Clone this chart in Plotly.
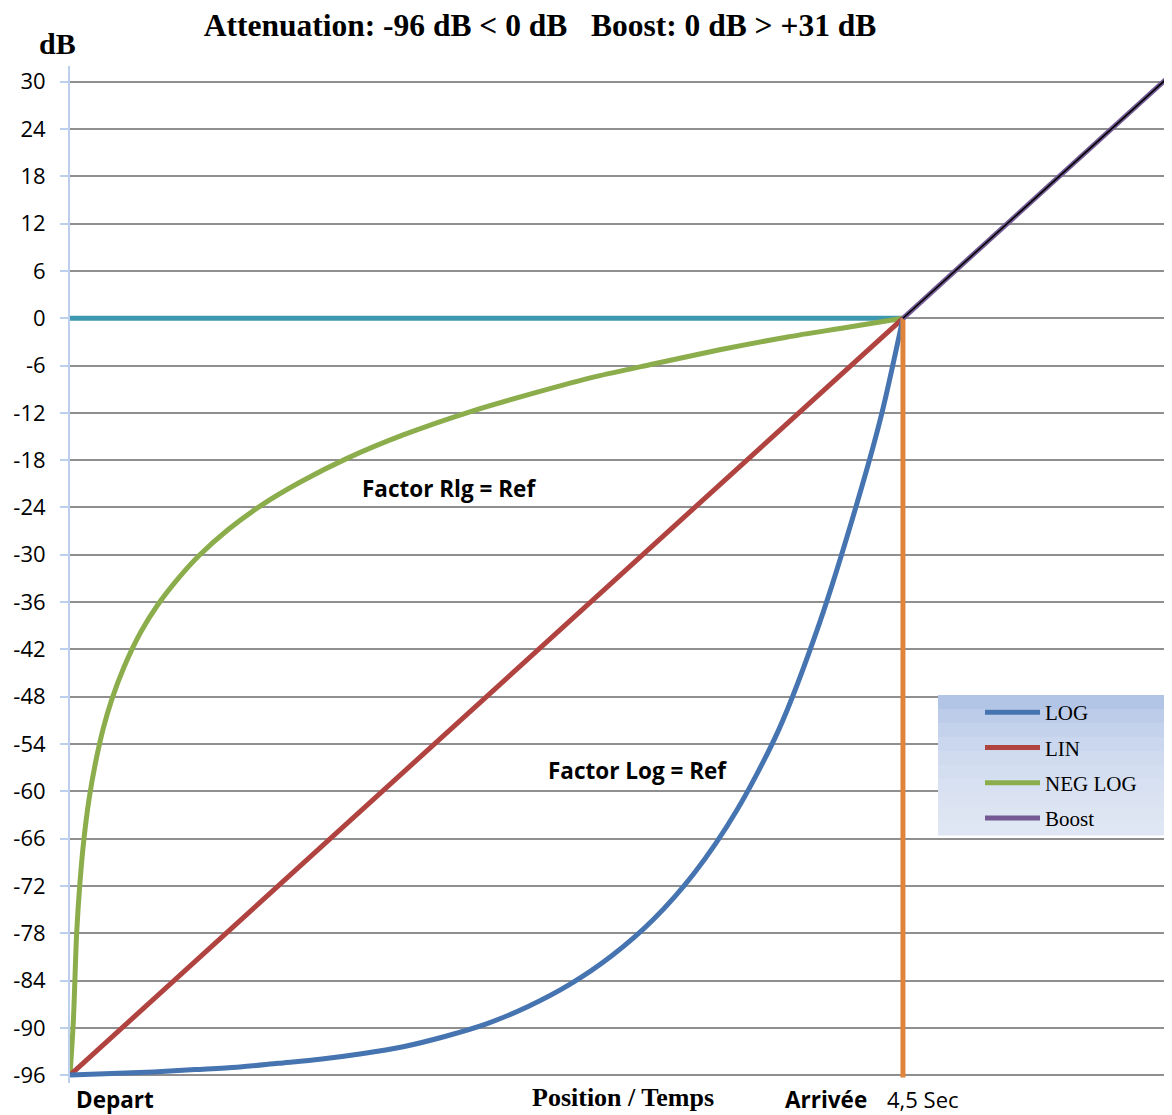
import plotly.graph_objects as go

# ---------------- data ----------------
# x: position from Depart (0) to Arrivée (100) -> 4,5 Sec ; y in dB
y_ticks = [-96, -90, -84, -78, -72, -66, -60, -54, -48, -42, -36, -30, -24, -18, -12, -6, 0, 6, 12, 18, 24, 30]

log_x = [0, 5, 10, 15, 20, 25, 30, 35, 40, 45, 50, 55, 60, 65, 70, 75, 80, 85, 90, 95, 97.5, 100]
log_y = [-96, -95.8, -95.6, -95.3, -95.0, -94.5, -94.0, -93.3, -92.4, -91.1, -89.5, -87.3, -84.5,
         -80.9, -76.3, -70.3, -62.5, -52.4, -38.6, -21.6, -11.9, 0]

lin_x = [0, 100]
lin_y = [-96, 0]

neglog_x = [0, 0.4, 0.8, 1.2, 1.7, 2.3, 3, 4, 5, 6.5, 8.5, 10.5, 13, 15.5, 19, 23, 27.6, 33.2, 40,
            48.2, 56, 63.1, 70, 78, 86, 93, 100]
neglog_y = [-96, -89.2, -78.0, -71.5, -65.8, -60.9, -56.7, -52.0, -48.4, -44.2, -39.8, -36.4, -33.0,
            -30.1, -26.8, -23.7, -20.8, -17.8, -14.8, -11.8, -9.4, -7.4, -5.8, -4.0, -2.4, -1.2, 0]

boost_x = [100, 132.3]
boost_y = [0, 31]

ref_x = [0, 100]          # 0 dB reference line
ref_y = [0, 0]
arr_x = [100, 100]        # Arrivée marker line
arr_y = [0, -96.3]

# ---------------- layout geometry ----------------
OFF = 8                       # page body margin
W, H = 1172 - OFF, 1115 - OFF
ML, MR, MT, MB = 62, 0, 58, 32
PW, PH = W - ML - MR, H - MT - MB


def px(xs):
    """screen x pixel -> paper x"""
    return (xs - OFF - ML) / PW


def py(ys):
    """screen y pixel -> paper y"""
    return (H - MB - (ys - OFF)) / PH


SANS = "Open Sans"
SERIF = "Liberation Serif"

fig = go.Figure()

fig.add_trace(go.Scatter(x=ref_x, y=ref_y, mode="lines", line=dict(color="#3e98b0", width=5),
                         showlegend=False, hoverinfo="skip"))
fig.add_trace(go.Scatter(x=neglog_x, y=neglog_y, mode="lines", name="NEG LOG",
                         line=dict(color="#8cad4c", width=5, shape="spline", smoothing=0.8),
                         legendgroup="c", legendrank=3))
fig.add_trace(go.Scatter(x=lin_x, y=lin_y, mode="lines", name="LIN",
                         line=dict(color="#b0433f", width=5), legendgroup="b", legendrank=2))
fig.add_trace(go.Scatter(x=log_x, y=log_y, mode="lines", name="LOG",
                         line=dict(color="#4674b0", width=5, shape="spline", smoothing=0.8),
                         legendgroup="a", legendrank=1))
fig.add_trace(go.Scatter(x=arr_x, y=arr_y, mode="lines", line=dict(color="#df853b", width=5),
                         showlegend=False, hoverinfo="skip"))
fig.add_trace(go.Scatter(x=boost_x, y=boost_y, mode="lines", name="Boost",
                         line=dict(color="#735a93", width=5), legendgroup="d", legendrank=4))
fig.add_trace(go.Scatter(x=boost_x, y=boost_y, mode="lines", line=dict(color="#000000", width=1.6),
                         showlegend=False, hoverinfo="skip"))

# legend background (vertical gradient)
shapes = []
x0, x1 = px(938), px(1172)
top, bot = 695, 835
bands = ["#b2c5e7", "#bccce9", "#c4d2ec", "#cad7ee", "#d0dbf0", "#d4def1", "#d8e1f2", "#dbe3f3", "#dde5f3", "#dfe6f4"]
n = len(bands)
for i, c in enumerate(bands):
    ya = top + (bot - top) * i / n
    yb = top + (bot - top) * (i + 1) / n + 0.5
    shapes.append(dict(type="rect", xref="paper", yref="paper", x0=x0, x1=x1, y0=py(yb), y1=py(ya),
                       fillcolor=c, line=dict(width=0), layer="above"))

annotations = [
    dict(text="<b>dB</b>", x=px(57), y=py(43), font=dict(family=SERIF, size=30, color="black")),
    dict(text="<b>Factor Rlg = Ref</b>", x=px(449), y=py(488), font=dict(family=SANS, size=22.5, color="black")),
    dict(text="<b>Factor Log = Ref</b>", x=px(637), y=py(770), font=dict(family=SANS, size=22.5, color="black")),
    dict(text="<b>Depart</b>", x=px(74), y=py(1099.5), xanchor="left", font=dict(family=SANS, size=22.5, color="black")),
    dict(text="<b>Position / Temps</b>", x=px(623), y=py(1097), font=dict(family=SERIF, size=26, color="black")),
    dict(text="<b>Arrivée</b>", x=px(826), y=py(1099), font=dict(family=SANS, size=22.5, color="black")),
    dict(text="4,5 Sec", x=px(885), y=py(1099), xanchor="left", font=dict(family=SANS, size=22, color="black")),
]
for a in annotations:
    a.setdefault("xanchor", "center")
    a.update(xref="paper", yref="paper", yanchor="middle", showarrow=False)

fig.update_layout(
    width=W, height=H,
    margin=dict(l=ML, r=MR, t=MT, b=MB),
    paper_bgcolor="white", plot_bgcolor="white",
    title=dict(text="<b>Attenuation: -96 dB < 0 dB\u00a0\u00a0\u00a0Boost: 0 dB > +31 dB</b>",
               x=(540 - OFF) / W, xanchor="center", y=1 - (25 - OFF) / H, yanchor="middle",
               font=dict(family=SERIF, size=31.5, color="black")),
    xaxis=dict(range=[0, 132.3], showgrid=False, zeroline=False, showticklabels=False, ticks="",
               showline=False, fixedrange=True),
    yaxis=dict(range=[-97, 32], tickvals=y_ticks, ticktext=[str(v) for v in y_ticks],
               showgrid=True, gridcolor="#8f8f8f", gridwidth=2, zeroline=False,
               showline=True, linecolor="#bcd0ee", linewidth=2,
               ticks="outside", ticklen=8, tickcolor="#bcd0ee", tickwidth=2,
               ticklabelstandoff=10,
               tickfont=dict(family=SANS, size=22, color="black")),
    legend=dict(x=px(980), y=py(692), xanchor="left", yanchor="top",
                bgcolor="rgba(0,0,0,0)", font=dict(family=SERIF, size=21, color="black"),
                tracegroupgap=5, itemwidth=55),
    shapes=shapes,
    annotations=annotations,
    showlegend=True,
)

fig.write_html("out.html")
